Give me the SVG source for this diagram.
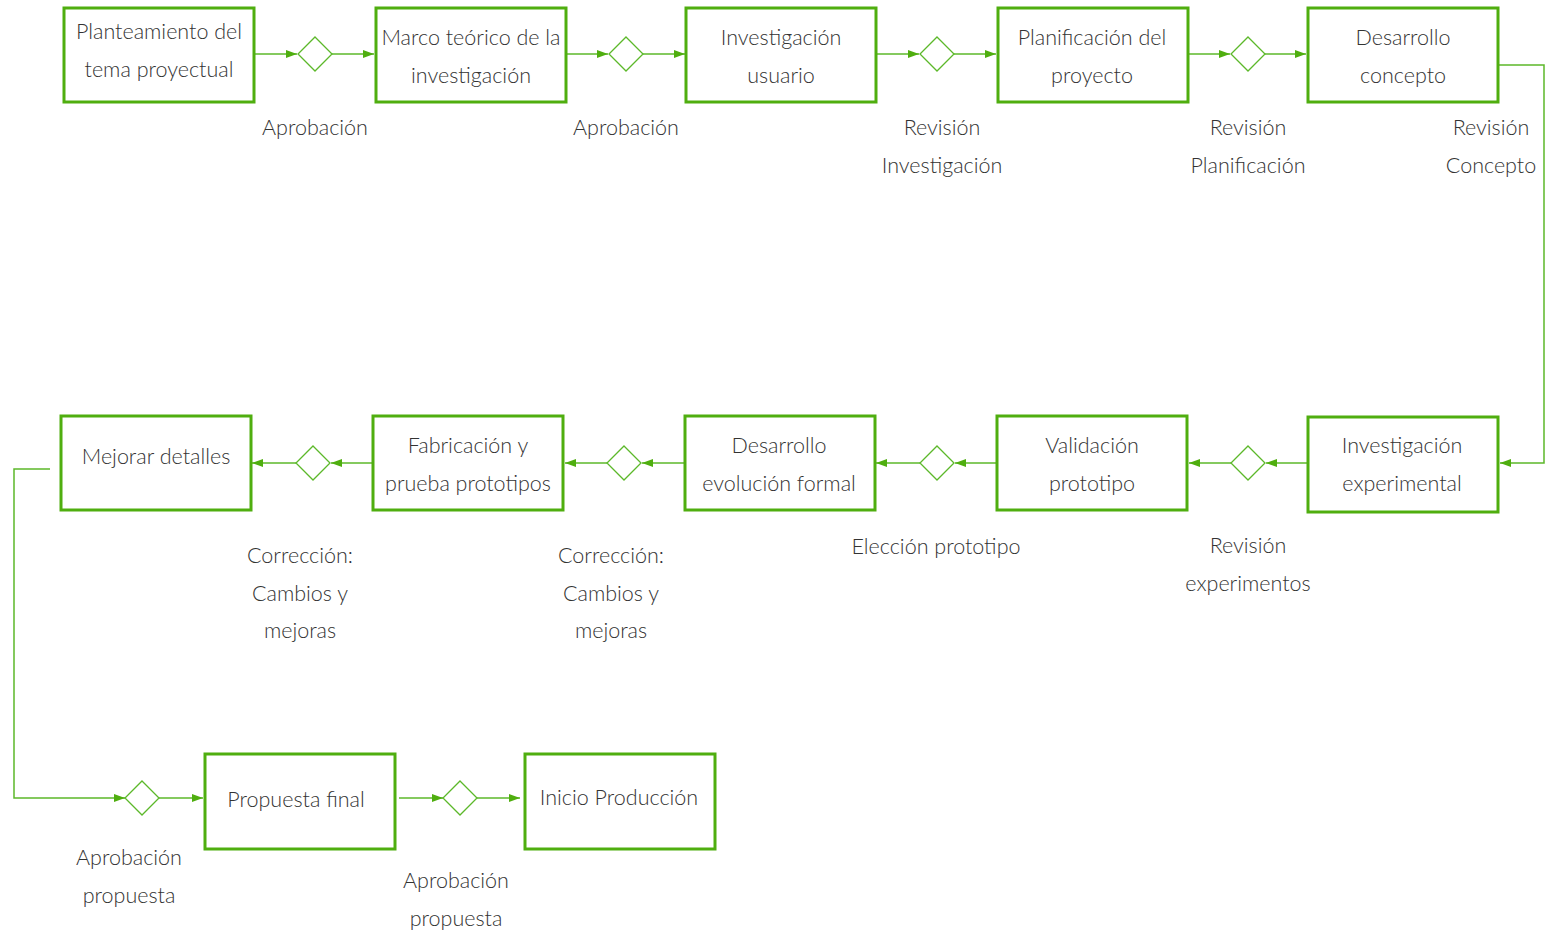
<svg xmlns="http://www.w3.org/2000/svg" width="1550" height="934" viewBox="0 0 1550 934">
<style>
.box{fill:#fff;stroke:#4fae0f;stroke-width:3}
.dia{fill:#fff;stroke:#5cb82a;stroke-width:1.3}
.ln{fill:none;stroke:#5cb82a;stroke-width:1.5}
text{font-family:Lato,"Open Sans","Liberation Sans",sans-serif;font-weight:300;font-size:21.5px;fill:#333;text-anchor:middle;dominant-baseline:central}
</style>
<defs>
<marker id="ah" markerUnits="userSpaceOnUse" markerWidth="12" markerHeight="10" refX="11" refY="5" orient="auto">
<path d="M0,1 L11,5 L0,9 Z" fill="#4fae0f"/>
</marker>
</defs>
<rect width="1550" height="934" fill="#fff"/>
<g id="connectors">
<line class="ln" x1="255" y1="54" x2="297" y2="54" marker-end="url(#ah)"/>
<line class="ln" x1="332" y1="54" x2="374" y2="54" marker-end="url(#ah)"/>
<line class="ln" x1="567" y1="54" x2="608" y2="54" marker-end="url(#ah)"/>
<line class="ln" x1="643" y1="54" x2="685" y2="54" marker-end="url(#ah)"/>
<line class="ln" x1="877" y1="54" x2="919" y2="54" marker-end="url(#ah)"/>
<line class="ln" x1="954" y1="54" x2="996" y2="54" marker-end="url(#ah)"/>
<line class="ln" x1="1189" y1="54" x2="1230" y2="54" marker-end="url(#ah)"/>
<line class="ln" x1="1265" y1="54" x2="1306" y2="54" marker-end="url(#ah)"/>
<polyline class="ln" points="1499,65 1544,65 1544,463 1500,463" marker-end="url(#ah)"/>
<line class="ln" x1="1307" y1="463" x2="1266" y2="463" marker-end="url(#ah)"/>
<line class="ln" x1="1231" y1="463" x2="1189" y2="463" marker-end="url(#ah)"/>
<line class="ln" x1="996" y1="463" x2="955" y2="463" marker-end="url(#ah)"/>
<line class="ln" x1="920" y1="463" x2="876" y2="463" marker-end="url(#ah)"/>
<line class="ln" x1="684" y1="463" x2="642" y2="463" marker-end="url(#ah)"/>
<line class="ln" x1="607" y1="463" x2="565" y2="463" marker-end="url(#ah)"/>
<line class="ln" x1="372" y1="463" x2="331" y2="463" marker-end="url(#ah)"/>
<line class="ln" x1="296" y1="463" x2="252" y2="463" marker-end="url(#ah)"/>
<polyline class="ln" points="50,469 14,469 14,798 125,798" marker-end="url(#ah)"/>
<line class="ln" x1="159" y1="798" x2="203" y2="798" marker-end="url(#ah)"/>
<line class="ln" x1="399" y1="798" x2="443" y2="798" marker-end="url(#ah)"/>
<line class="ln" x1="477" y1="798" x2="520" y2="798" marker-end="url(#ah)"/>
</g>
<g id="d1"><path class="dia" d="M315,37 L332,54 L315,71 L298,54 Z"/><text x="315" y="127">Aprobación</text></g>
<g id="d2"><path class="dia" d="M626,37 L643,54 L626,71 L609,54 Z"/><text x="626" y="127">Aprobación</text></g>
<g id="d3"><path class="dia" d="M937,37 L954,54 L937,71 L920,54 Z"/><text x="942" y="127">Revisión</text><text x="942" y="165">Investigación</text></g>
<g id="d4"><path class="dia" d="M1248,37 L1265,54 L1248,71 L1231,54 Z"/><text x="1248" y="127">Revisión</text><text x="1248" y="165">Planificación</text></g>
<g id="d5"><text x="1491" y="127">Revisión</text><text x="1491" y="165">Concepto</text></g>
<g id="d6"><path class="dia" d="M1248,446 L1265,463 L1248,480 L1231,463 Z"/><text x="1248" y="545">Revisión</text><text x="1248" y="583">experimentos</text></g>
<g id="d7"><path class="dia" d="M937,446 L954,463 L937,480 L920,463 Z"/><text x="936" y="546">Elección prototipo</text></g>
<g id="d8"><path class="dia" d="M624,446 L641,463 L624,480 L607,463 Z"/><text x="611" y="555">Corrección:</text><text x="611" y="593">Cambios y</text><text x="611" y="630">mejoras</text></g>
<g id="d9"><path class="dia" d="M313,446 L330,463 L313,480 L296,463 Z"/><text x="300" y="555">Corrección:</text><text x="300" y="593">Cambios y</text><text x="300" y="630">mejoras</text></g>
<g id="d10"><path class="dia" d="M142,781 L159,798 L142,815 L125,798 Z"/><text x="129" y="857">Aprobación</text><text x="129" y="895">propuesta</text></g>
<g id="d11"><path class="dia" d="M460,781 L477,798 L460,815 L443,798 Z"/><text x="456" y="880">Aprobación</text><text x="456" y="918">propuesta</text></g>
<g id="n1"><rect class="box" x="64" y="8" width="190" height="94"/><text x="159" y="31">Planteamiento del</text><text x="159" y="69">tema proyectual</text></g>
<g id="n2"><rect class="box" x="376" y="8" width="190" height="94"/><text x="471" y="37">Marco teórico de la</text><text x="471" y="75">investigación</text></g>
<g id="n3"><rect class="box" x="686" y="8" width="190" height="94"/><text x="781" y="37">Investigación</text><text x="781" y="75">usuario</text></g>
<g id="n4"><rect class="box" x="998" y="8" width="190" height="94"/><text x="1092" y="37">Planificación del</text><text x="1092" y="75">proyecto</text></g>
<g id="n5"><rect class="box" x="1308" y="8" width="190" height="94"/><text x="1403" y="37">Desarrollo</text><text x="1403" y="75">concepto</text></g>
<g id="n6"><rect class="box" x="1308" y="417" width="190" height="95"/><text x="1402" y="445">Investigación</text><text x="1402" y="483">experimental</text></g>
<g id="n7"><rect class="box" x="997" y="416" width="190" height="94"/><text x="1092" y="445">Validación</text><text x="1092" y="483">prototipo</text></g>
<g id="n8"><rect class="box" x="685" y="416" width="190" height="94"/><text x="779" y="445">Desarrollo</text><text x="779" y="483">evolución formal</text></g>
<g id="n9"><rect class="box" x="373" y="416" width="190" height="94"/><text x="468" y="445">Fabricación y</text><text x="468" y="483">prueba prototipos</text></g>
<g id="n10"><rect class="box" x="61" y="416" width="190" height="94"/><text x="156" y="456">Mejorar detalles</text></g>
<g id="n11"><rect class="box" x="205" y="754" width="190" height="95"/><text x="296" y="799">Propuesta final</text></g>
<g id="n12"><rect class="box" x="525" y="754" width="190" height="95"/><text x="619" y="797">Inicio Producción</text></g>
</svg>
